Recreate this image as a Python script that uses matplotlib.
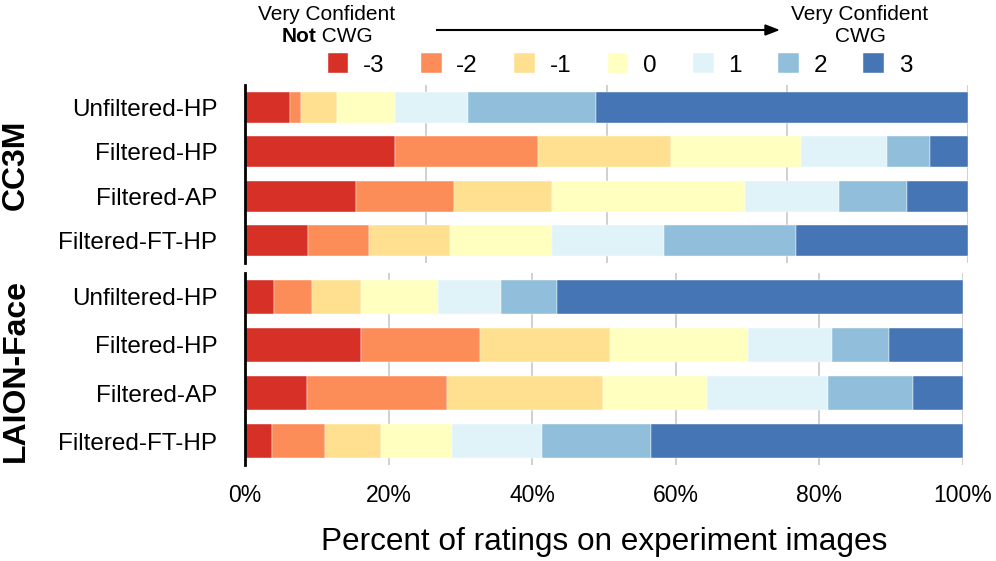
import numpy as np
import matplotlib.pyplot as plt

plt.rcParams['font.family'] = ['Liberation Sans', 'DejaVu Sans']

rows = ["Unfiltered-HP", "Filtered-HP", "Filtered-AP", "Filtered-FT-HP"]
levels = ["-3", "-2", "-1", "0", "1", "2", "3"]
colors = ["#d73027", "#fc8d59", "#fee090", "#ffffbf", "#e0f3f8", "#91bfdb", "#4575b4"]

# percent of ratings per level (-3 .. 3), one row per model
cc3m = np.array([
    [6.2, 1.6, 4.9, 8.1, 10.0, 17.8, 51.4],
    [20.8, 19.7, 18.4, 18.0, 11.9, 6.0, 5.2],
    [15.4, 13.5, 13.5, 26.7, 13.0, 9.4, 8.5],
    [8.7, 8.4, 11.2, 14.1, 15.6, 18.2, 23.8],
])
laion = np.array([
    [4.1, 5.2, 6.8, 10.8, 8.7, 7.9, 56.5],
    [16.1, 16.6, 18.1, 19.2, 11.8, 7.9, 10.3],
    [8.7, 19.5, 21.6, 14.5, 16.9, 11.9, 6.9],
    [3.8, 7.4, 7.8, 9.8, 12.5, 15.2, 43.5],
])

W, H = 996, 561
fig = plt.figure(figsize=(W / 100, H / 100), dpi=100)

def px_axes(x0, y0, x1, y1):
    return fig.add_axes([x0 / W, 1 - y1 / H, (x1 - x0) / W, (y1 - y0) / H])

ax1 = px_axes(245, 85, 968, 263)
ax2 = px_axes(245, 273, 963, 465)

def draw(ax, data, grid_step):
    y = np.arange(len(rows))
    left = np.zeros(len(rows))
    handles = []
    for j in range(len(levels)):
        h = ax.barh(y, data[:, j], left=left, height=0.7, color=colors[j],
                    edgecolor='white', linewidth=0.3, label=levels[j], zorder=2)
        handles.append(h)
        left += data[:, j]
    ax.set_xlim(0, 100)
    ax.set_ylim(3.5, -0.5)
    ax.set_yticks(y)
    ax.set_yticklabels(rows, fontsize=17.5)
    for g in np.arange(grid_step, 100.1, grid_step):
        ax.axvline(g, color='#c8c8c8', lw=1.2, zorder=1)
    for s in ['top', 'right', 'bottom']:
        ax.spines[s].set_visible(False)
    ax.spines['left'].set_linewidth(2)
    ax.tick_params(axis='both', length=0, pad=20)
    return handles

handles = draw(ax1, cc3m, 25)
draw(ax2, laion, 20)
ax1.set_xticks([])
ax2.set_xticks(np.arange(0, 101, 20))
ax2.set_xticklabels(["{}%".format(v) for v in range(0, 101, 20)], fontsize=16.5)
ax2.tick_params(axis='x', pad=14)
ax2.set_xlabel("Percent of ratings on experiment images", fontsize=22.7, labelpad=14)

fig.text(16 / W, 1 - 165 / H, "CC3M", rotation=90, fontsize=23, fontweight='bold',
         ha='center', va='center')
fig.text(16 / W, 1 - 370 / H, "LAION-Face", rotation=90, fontsize=23, fontweight='bold',
         ha='center', va='center')

fig.legend(handles=handles, labels=levels, loc='center', bbox_to_anchor=(620 / W, 1 - 65 / H),
           ncol=7, frameon=False, fontsize=17.5, handlelength=0.85, handleheight=0.85,
           columnspacing=1.5, handletextpad=0.6)

# header: confidence direction
fig.text(327 / W, 1 - 14 / H, "Very Confident", fontsize=15, ha='center', va='center')
fig.text(860 / W, 1 - 14 / H, "Very Confident", fontsize=15, ha='center', va='center')
fig.text(860 / W, 1 - 37 / H, "CWG", fontsize=15, ha='center', va='center')
fig.canvas.draw()
r = fig.canvas.get_renderer()
t_not = fig.text(0, 1 - 37 / H, "Not", fontsize=15, fontweight='bold', ha='left', va='center')
t_cwg = fig.text(0, 1 - 37 / H, " CWG", fontsize=15, ha='left', va='center')
w1 = t_not.get_window_extent(r).width
w2 = t_cwg.get_window_extent(r).width
x0 = 327 - (w1 + w2) / 2
t_not.set_x(x0 / W)
t_cwg.set_x((x0 + w1) / W)
fig.add_artist(plt.Line2D([437 / W, 770 / W], [1 - 30 / H, 1 - 30 / H], color='black', lw=1.5))
fig.patches.append(plt.Polygon([[765 / W, 1 - 25 / H], [778 / W, 1 - 30 / H], [765 / W, 1 - 35 / H]],
                               closed=True, color='black', transform=fig.transFigure, figure=fig))

fig.savefig("out.png", dpi=100)
